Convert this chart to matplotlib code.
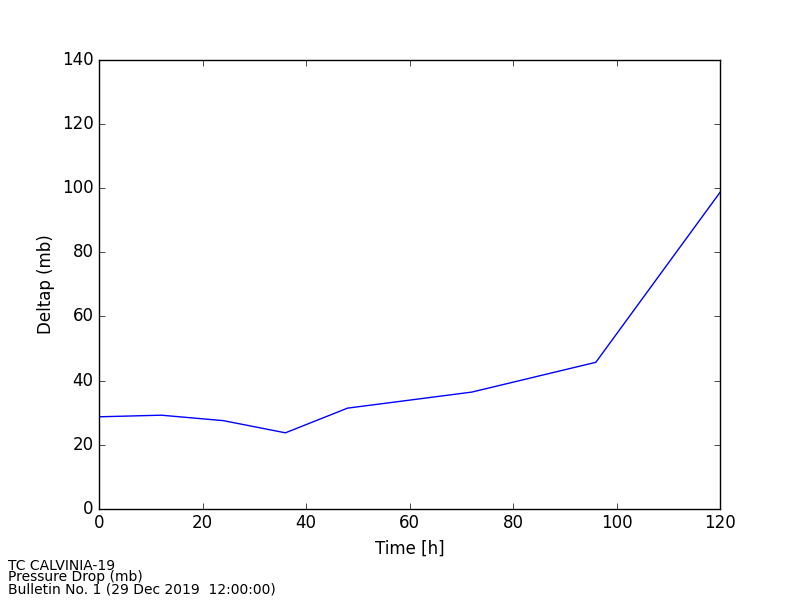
import matplotlib
matplotlib.use('Agg')
import matplotlib.pyplot as plt

plt.style.use('classic')

# forecast hours and pressure drop
hours = [0, 12, 24, 36, 48, 72, 96, 120]
deltap = [28.7, 29.2, 27.5, 23.7, 31.4, 36.4, 45.7, 98.7]

storm = 'TC CALVINIA-19'
subtitle = 'Pressure Drop (mb)'
bulletin = 'Bulletin No. 1 (29 Dec 2019  12:00:00)'


def main():
    fig, ax = plt.subplots(figsize=(8, 6), dpi=100)
    fig.subplots_adjust(left=0.124, bottom=0.152)
    ax.plot(hours, deltap, 'b-', linewidth=1)
    ax.set_xlim(0, 120); ax.set_ylim(0, 140)
    ax.set_xlabel('Time [h]'); ax.set_ylabel('Deltap (mb)')

    # footer lines sit tight on each other, as in the original
    for i, line in enumerate([storm, subtitle, bulletin]):
        fig.text(0.01, 1 - (565.5 + 12 * i) / 600, line, fontsize=10, va='center', ha='left')

    fig.savefig('out.png', dpi=100, facecolor='white')


if __name__ == '__main__':
    main()
